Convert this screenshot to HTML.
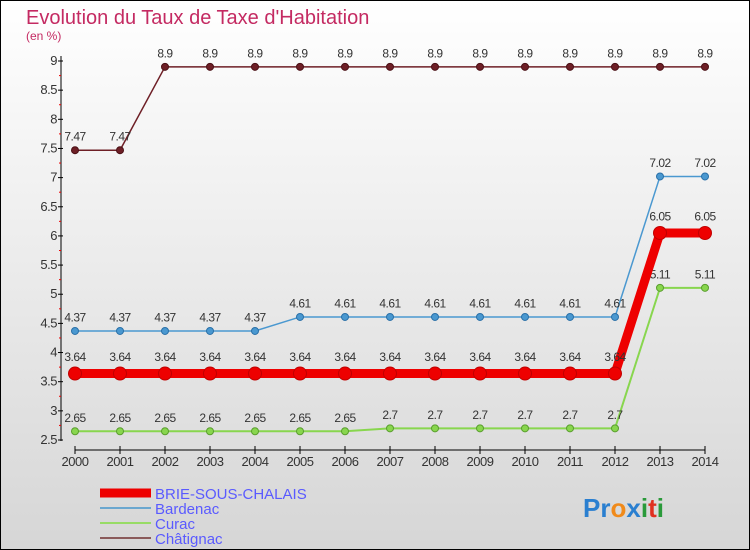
<!DOCTYPE html>
<html><head><meta charset="utf-8"><style>
html,body{margin:0;padding:0}
body{width:750px;height:550px;overflow:hidden;font-family:"Liberation Sans",sans-serif}
#wrap{position:absolute;left:0;top:0;width:748px;height:548px;border:1px solid #000;background:linear-gradient(#ffffff,#d6d6d6)}
</style></head><body>
<div id="wrap">
<svg id="chart" width="750" height="550" style="position:absolute;left:-1px;top:-1px"></svg>
</div>
<script>
const years=[2000,2001,2002,2003,2004,2005,2006,2007,2008,2009,2010,2011,2012,2013,2014];
const yTicks=[2.5,3,3.5,4,4.5,5,5.5,6,6.5,7,7.5,8,8.5,9];
const brie=[3.64,3.64,3.64,3.64,3.64,3.64,3.64,3.64,3.64,3.64,3.64,3.64,3.64,6.05,6.05];
const bardenac=[4.37,4.37,4.37,4.37,4.37,4.61,4.61,4.61,4.61,4.61,4.61,4.61,4.61,7.02,7.02];
const curac=[2.65,2.65,2.65,2.65,2.65,2.65,2.65,2.7,2.7,2.7,2.7,2.7,2.7,5.11,5.11];
const chatignac=[7.47,7.47,8.9,8.9,8.9,8.9,8.9,8.9,8.9,8.9,8.9,8.9,8.9,8.9,8.9];

const NS="http://www.w3.org/2000/svg";
const svg=document.getElementById('chart');
function X(i){return 75+i*45;}
function Y(v){return 440-(v-2.5)*(379/6.5);}
function el(t,a,txt){const e=document.createElementNS(NS,t);for(const k in a)e.setAttribute(k,a[k]);if(txt!==undefined)e.textContent=txt;svg.appendChild(e);return e;}

let t=el('text',{x:26,y:24,fill:'#c42a62','font-size':20},"Evolution du Taux de Taxe d'Habitation");


t=el('text',{x:26,y:40,fill:'#c42a62','font-size':12},"(en %)");



let a=el('line',{x1:61,y1:56,x2:61,y2:441,stroke:'#000','stroke-width':1});


yTicks.forEach(v=>{
  const y=Y(v);
  el('line',{x1:58,y1:y,x2:63,y2:y,stroke:'#000'});
  const m=Y(v+0.25);
  if(v<9) el('line',{x1:59,y1:m,x2:61,y2:m,stroke:'#e00'});
  const l=el('text',{x:57,y:y+4,'text-anchor':'end','font-size':13,fill:'#333','letter-spacing':'-0.5'},String(v));
  
  
});
a=el('line',{x1:75,y1:450,x2:705,y2:450,stroke:'#000'});


years.forEach((yr,i)=>{
  el('line',{x1:X(i),y1:446,x2:X(i),y2:454,stroke:'#000'});
  const l=el('text',{x:X(i),y:466,'text-anchor':'middle','font-size':13,fill:'#333','letter-spacing':'-0.5'},String(yr));
  
  
});

function series(vals,color,w,r,name,stroke){
  const g=document.createElementNS(NS,'g');svg.appendChild(g);
  
  
  const p=document.createElementNS(NS,'polyline');
  p.setAttribute('points',vals.map((v,i)=>X(i)+','+Y(v)).join(' '));
  p.setAttribute('fill','none');p.setAttribute('stroke',color);p.setAttribute('stroke-width',w);
  g.appendChild(p);
  vals.forEach((v,i)=>{
    const c=document.createElementNS(NS,'circle');
    c.setAttribute('cx',X(i));c.setAttribute('cy',Y(v));c.setAttribute('r',r);
    c.setAttribute('fill',color);c.setAttribute('stroke',stroke);c.setAttribute('stroke-width',1);
    
    
    g.appendChild(c);
    const tx=document.createElementNS(NS,'text');
    tx.setAttribute('x',X(i));tx.setAttribute('y',Y(v)-(r+6));
    tx.setAttribute('text-anchor','middle');tx.setAttribute('font-size',12);tx.setAttribute('fill','#333');
    tx.setAttribute('letter-spacing','-0.5');
    tx.textContent=String(v);
    
    
    g.appendChild(tx);
  });
}
series(curac,'#88d64e',2,3.5,'curac-series','#5a9e2e');
series(chatignac,'#6e1f26',1.5,3.5,'chatignac-series','#4a1015');
series(bardenac,'#4a98d0',1.5,3.5,'bardenac-series','#2a70a8');
series(brie,'#ee0000',9,6.5,'brie-series','#c00000');

const leg=[['BRIE-SOUS-CHALAIS','#ee0000',9,493],['Bardenac','#6ba7cf',2,508],['Curac','#98dc66',2,523],['Châtignac','#8a5a5a',2,538]];
leg.forEach(([n,c,w,y])=>{
  el('line',{x1:100,y1:y,x2:151,y2:y,stroke:c,'stroke-width':w});
  const l=el('text',{x:155,y:y+6,'font-size':15,fill:'#5a5aff'},n);
  
  
});
const lg=el('text',{x:583,y:517,'font-size':26,'font-weight':'bold'},'');


[['P','#2a7fd0'],['r','#2a7fd0'],['o','#f08a1a'],['x','#2a7fd0'],['i','#2a9a3a'],['t','#e03020'],['i','#2a9a3a']].forEach(([ch,c])=>{
  const s=document.createElementNS(NS,'tspan');s.setAttribute('fill',c);s.textContent=ch;lg.appendChild(s);
});
</script>
</body></html>
